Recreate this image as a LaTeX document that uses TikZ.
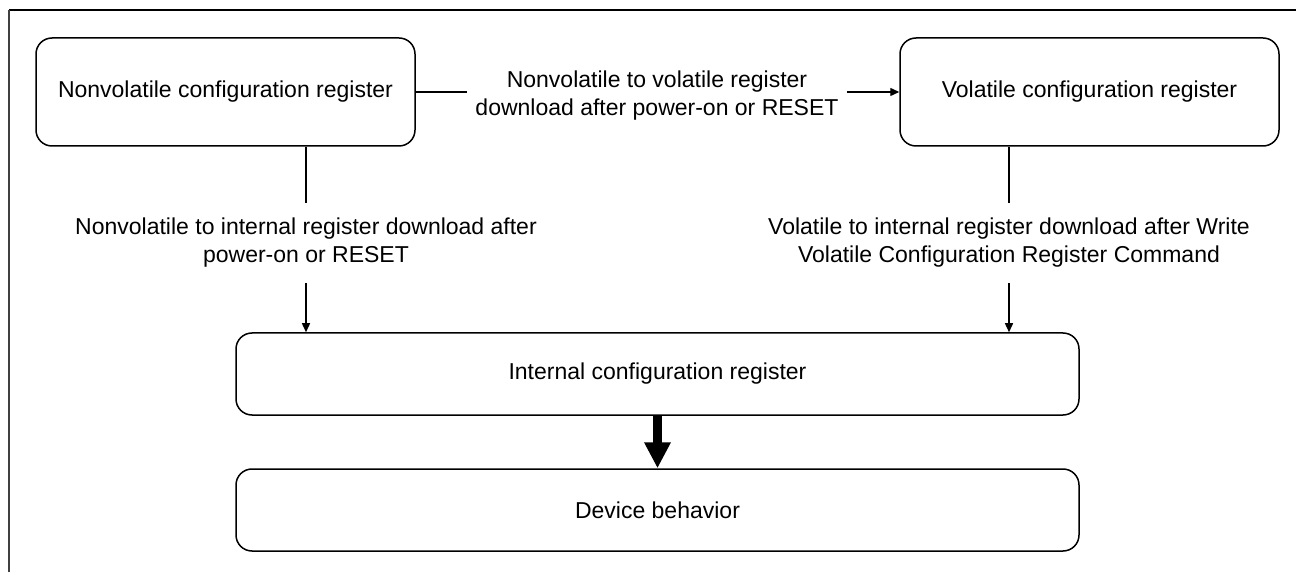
\documentclass[tikz,border=0pt]{standalone}
\usepackage{fontspec}
\setmainfont{Liberation Sans}
\usetikzlibrary{arrows.meta}
\tikzstyle{sheet} = [x = .5pt, y = -.5pt]
\definecolor{frameGray}{HTML}{404040}
\tikzstyle{frameLine} = [line width=.8pt]
\tikzstyle{regBox} = [draw, line width=.75pt, rounded corners = 8pt, align=center, font=\fontsize{11.5}{14}\selectfont]
\tikzstyle{wideBox} = [regBox, minimum width=421.5pt, minimum height=41pt]
\tikzstyle{smallBox} = [regBox, minimum width=189.5pt, minimum height=54pt]
\tikzstyle{linkText} = [align=center, inner xsep=4pt, inner ysep=7.5pt, font=\fontsize{11.5}{14}\selectfont]
\tikzstyle{link} = [line width=.7pt]
\tikzstyle{linkArrow} = [link, -{Triangle[width=4pt,length=4.5pt]}]
\tikzstyle{fatArrow} = [line width=4.5pt, -{Triangle[width=12.5pt,length=13pt]}]

\begin{document}
\begin{tikzpicture}[sheet]
\useasboundingbox (0,0) rectangle (1296,572);
% frame
\draw [frameLine] (9,10) -- (1296,10);
\draw [frameLine, color=frameGray, line width=1pt] (9,10) -- (9,572);
% registers
\node [smallBox] (nonvolatile) at (225.5,92) {Nonvolatile configuration register};
\node [smallBox] (volatile) at (1089.5,92) {Volatile configuration register};
\node [wideBox] (internal) at (657.5,374) {Internal configuration register};
\node [wideBox] (device) at (657.5,510) {Device behavior};
% download paths
\node [linkText] (nvToV) at (657,96) {Nonvolatile to volatile register\\download after power-on or RESET};
\node [linkText] (nvToInt) at (306,243) {Nonvolatile to internal register download after\\power-on or RESET};
\node [linkText] (vToInt) at (1009,243) {Volatile to internal register download after Write\\Volatile Configuration Register Command};
\draw [link] (nonvolatile) -- (nonvolatile -| nvToV.west);
\draw [linkArrow] (nonvolatile -| nvToV.east) -- (volatile);
\draw [link] (nonvolatile.south -| nvToInt) -- (nvToInt.north);
\draw [linkArrow] (nvToInt.south) -- (nvToInt |- internal.north);
\draw [link] (volatile.south -| vToInt) -- (vToInt.north);
\draw [linkArrow] (vToInt.south) -- (vToInt |- internal.north);
\draw [fatArrow] (internal) -- (device);
\end{tikzpicture}
\end{document}
